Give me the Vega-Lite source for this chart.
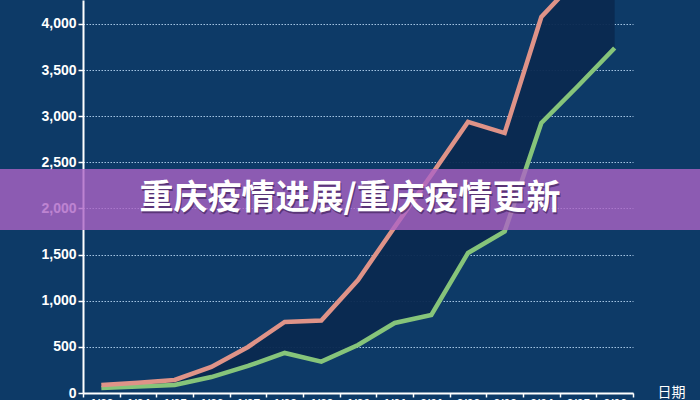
{
  "$schema": "https://vega.github.io/schema/vega-lite/v6.json",
  "autosize": {"type": "none"},
  "width": 550,
  "height": 393,
  "padding": {"left": 83, "top": 0, "right": 67, "bottom": 7},
  "background": "#0d3a67",
  "config": {
    "view": {"stroke": null},
    "axis": {"labelFont": "Liberation Sans", "titleFont": "Noto Sans CJK SC"}
  },
  "datasets": {
    "series": [
      {"date": "1/23", "upper": 87, "lower": 54},
      {"date": "1/24", "upper": 110, "lower": 70},
      {"date": "1/25", "upper": 141, "lower": 87},
      {"date": "1/26", "upper": 282, "lower": 173},
      {"date": "1/27", "upper": 499, "lower": 293},
      {"date": "1/28", "upper": 770, "lower": 434},
      {"date": "1/29", "upper": 785, "lower": 340},
      {"date": "1/30", "upper": 1225, "lower": 520},
      {"date": "1/31", "upper": 1800, "lower": 759},
      {"date": "2/01", "upper": 2363, "lower": 846},
      {"date": "2/02", "upper": 2938, "lower": 1518},
      {"date": "2/03", "upper": 2818, "lower": 1750},
      {"date": "2/04", "upper": 4076, "lower": 2927},
      {"date": "2/05", "upper": 4500, "lower": 3328},
      {"date": "2/06", "upper": 4950, "lower": 3740}
    ],
    "banner": [
      {"left": -0.151, "right": 1.122, "bottom": 1767, "top": 2428, "mid": 0.4855, "ymid": 2100, "label": "重庆疫情进展/重庆疫情更新"}
    ]
  },
  "layer": [
    {
      "data": {"name": "series"},
      "encoding": {
        "x": {
          "field": "date", "type": "ordinal", "bandPosition": 0.5,
          "scale": {"type": "band", "paddingInner": 0, "paddingOuter": 0},
          "axis": {
            "title": "日期", "titleColor": "#ffffff", "titleFontSize": 14, "titleFontWeight": "normal",
            "titleAnchor": null, "titleX": 574, "titleY": -1, "titleAlign": "left", "titleBaseline": "middle",
            "labelAngle": 0, "labelColor": "#ffffff", "labelFontSize": 12, "labelFontWeight": "bold", "labelPadding": 1,
            "tickBand": "extent", "tickColor": "#ffffff", "tickSize": 4, "tickWidth": 1.5,
            "domainColor": "#ffffff", "domainWidth": 2, "grid": false
          }
        }
      },
      "layer": [
        {
          "mark": {"type": "area", "color": "#0b2950", "opacity": 0.95, "clip": true},
          "encoding": {
            "y": {
              "field": "upper", "type": "quantitative",
              "scale": {"domain": [0, 4260], "nice": false},
              "axis": {
                "title": null, "values": [0, 500, 1000, 1500, 2000, 2500, 3000, 3500, 4000], "format": ",.0f",
                "labelColor": "#ffffff", "labelFontSize": 14, "labelFontWeight": "bold", "labelPadding": 2,
                "tickColor": "#ffffff", "tickSize": 5, "tickWidth": 1.5,
                "domainColor": "#ffffff", "domainWidth": 2,
                "grid": true, "gridColor": "#b3d3f0", "gridDash": [1.5, 1.5], "gridWidth": 1.2, "gridOpacity": 0.9
              }
            },
            "y2": {"field": "lower"}
          }
        },
        {
          "mark": {"type": "line", "color": "#86c47a", "strokeWidth": 4.5, "clip": true},
          "encoding": {
            "y": {"field": "lower", "type": "quantitative"}
          }
        },
        {
          "mark": {"type": "line", "color": "#df9388", "strokeWidth": 4.5, "clip": true},
          "encoding": {
            "y": {"field": "upper", "type": "quantitative"}
          }
        }
      ]
    },
    {
      "data": {"name": "banner"},
      "encoding": {
        "x": {"field": "left", "type": "quantitative", "scale": {"domain": [0, 1], "nice": false, "zero": false}, "axis": null}
      },
      "layer": [
        {
          "mark": {"type": "rect", "color": "#ad64c5", "opacity": 0.8, "clip": false},
          "encoding": {
            "x2": {"field": "right"},
            "y": {"field": "bottom", "type": "quantitative"},
            "y2": {"field": "top"}
          }
        },
        {
          "mark": {"type": "text", "color": "#3a1d52", "opacity": 0.6, "dx": 1, "dy": 1.5, "font": "Noto Sans CJK SC", "fontWeight": "bold", "fontSize": 34, "align": "center", "baseline": "middle", "clip": false},
          "encoding": {
            "x": {"field": "mid", "type": "quantitative", "axis": null},
            "y": {"field": "ymid", "type": "quantitative"},
            "text": {"field": "label"}
          }
        },
        {
          "mark": {"type": "text", "color": "#ffffff", "font": "Noto Sans CJK SC", "fontWeight": "bold", "fontSize": 34, "align": "center", "baseline": "middle", "clip": false},
          "encoding": {
            "x": {"field": "mid", "type": "quantitative", "axis": null},
            "y": {"field": "ymid", "type": "quantitative"},
            "text": {"field": "label"}
          }
        }
      ]
    }
  ],
  "resolve": {"scale": {"x": "independent"}}
}
